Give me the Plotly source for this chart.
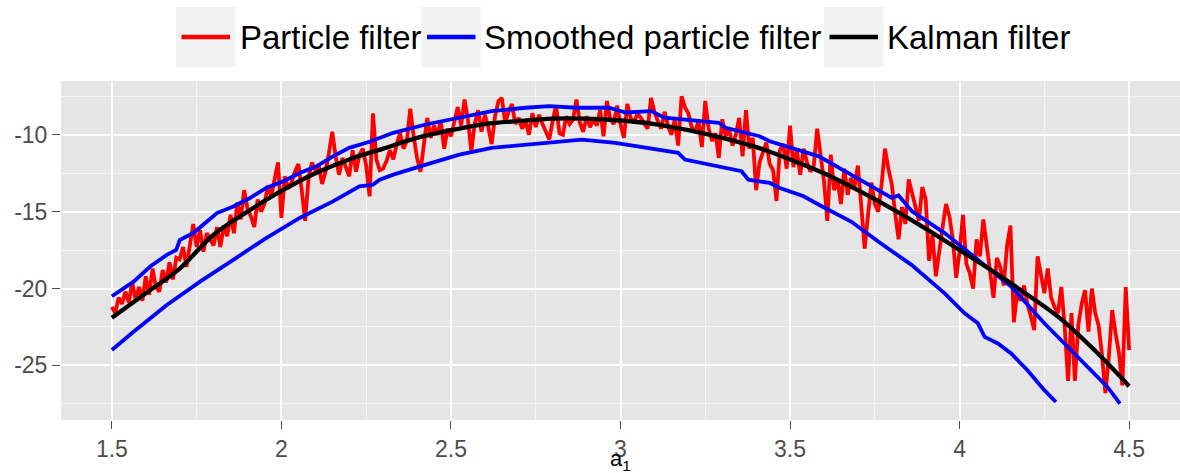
import plotly.graph_objects as go

# ---------------- data ----------------
series_names = ["Particle filter", "Smoothed particle filter", "Kalman filter"]
series_colors = ["#FF0000", "#0000FF", "#000000"]

x_ticks = [1.5, 2.0, 2.5, 3.0, 3.5, 4.0, 4.5]
x_tick_text = ["1.5", "2", "2.5", "3", "3.5", "4", "4.5"]
y_ticks = [-25, -20, -15, -10]
y_tick_text = ["-25", "-20", "-15", "-10"]
x_title = "a<sub>1</sub>"

# particle filter: one value per 0.01 step in a1, starting at 1.50
pf_start = 1.5
pf_step = 0.01
pf_values = [
    -21.2, -21.6, -20.6, -21.0, -20.2, -20.9, -19.6, -20.7, -19.9, -20.8,
    -19.2, -20.4, -18.7, -19.9, -20.2, -18.8, -19.6, -18.3, -19.4, -18.0,
    -18.1, -17.3, -18.6, -17.0, -15.8, -17.3, -16.2, -17.6, -16.4, -16.8,
    -17.2, -16.0, -17.3, -15.9, -16.6, -15.2, -16.4, -14.4, -15.5, -13.6,
    -14.8, -15.3, -16.0, -14.2, -15.0, -14.5, -13.3, -14.0, -12.8, -11.8,
    -15.4, -12.7, -13.5, -13.1, -12.4, -11.9, -13.6, -15.6, -12.8, -11.8,
    -12.3, -12.0, -13.2, -12.4, -11.2, -9.8, -11.4, -12.6, -11.5, -12.2,
    -12.7, -11.0, -12.4, -11.3, -10.9, -12.0, -14.0, -8.6, -11.6, -12.3,
    -12.2, -11.7, -11.0, -11.6, -10.6, -9.9, -10.9, -10.4, -8.3, -10.1,
    -11.5, -12.4, -10.5, -8.9, -10.2, -9.4, -10.0, -9.1, -10.9, -9.6,
    -10.1, -9.0, -8.2, -9.4, -7.7, -9.0, -11.1, -9.3, -8.4, -9.8,
    -8.7, -9.5, -10.6, -8.8, -7.8, -7.6, -9.2, -8.5, -8.0, -9.3,
    -8.9, -9.6, -9.1, -10.0, -8.6, -9.5, -8.7, -9.3, -9.8, -10.3,
    -9.1, -8.1, -9.9, -10.0, -8.8, -9.3, -9.0, -7.7, -9.2, -9.8,
    -8.8, -9.5, -9.0, -9.4, -8.4, -10.1, -7.8, -9.0, -9.3, -8.1,
    -9.3, -10.2, -8.0, -8.9, -9.2, -8.6, -8.9, -9.3, -9.6, -7.6,
    -8.5, -9.1, -9.6, -8.5, -9.4, -10.0, -9.0, -10.7, -7.5, -8.2,
    -8.6, -9.5, -9.8, -9.1, -10.8, -7.8, -9.6, -10.4, -9.9, -11.5,
    -9.0, -10.1, -9.6, -10.7, -10.0, -8.9, -11.4, -8.4, -10.9, -10.2,
    -13.6, -11.8, -11.2, -10.5, -11.9, -12.3, -14.3, -11.0, -10.6, -12.2,
    -9.4, -12.1, -11.0, -12.6, -10.9, -11.8, -12.4, -12.0, -9.6, -11.5,
    -13.0, -15.6, -11.3, -13.6, -12.9, -14.5, -12.2, -13.9, -12.8, -13.4,
    -12.0, -14.6, -17.4, -15.2, -13.1, -14.5, -15.0, -13.2, -10.9, -12.2,
    -13.2, -15.1, -16.8, -14.7, -15.8, -12.9, -13.8, -14.5, -15.6, -13.4,
    -14.2, -18.2, -16.5, -19.2, -17.4, -16.0, -14.5, -15.3, -16.8, -19.3,
    -17.6, -15.2, -18.4, -19.0, -20.0, -16.8, -17.9, -15.5, -17.2, -19.1,
    -20.6, -18.0, -18.6, -19.8, -17.2, -15.9, -22.2, -20.2, -20.8, -19.8,
    -21.0, -21.8, -22.7, -17.9, -19.0, -20.3, -18.7, -20.6, -21.2, -21.6,
    -19.9, -22.5, -26.0, -21.6, -26.0, -22.4, -21.0, -20.1, -22.8, -20.0,
    -21.6, -22.4, -24.3, -26.8, -24.5, -21.4, -22.9, -24.2, -26.3, -19.9,
    -24.0,
]
pf_x = [round(pf_start + i * pf_step, 2) for i in range(len(pf_values))]

# smoothed particle filter: upper and lower curves
spf_upper_x = [1.50, 1.564, 1.613, 1.662, 1.69, 1.70, 1.74, 1.81, 1.858, 1.907,
               1.955, 2.005, 2.054, 2.103, 2.152, 2.20, 2.26, 2.33, 2.426, 2.525,
               2.62, 2.72, 2.79, 2.87, 2.966, 3.015, 3.09, 3.13, 3.29, 3.31,
               3.41, 3.44, 3.585, 3.68, 3.76, 3.80, 3.82, 3.84, 3.86, 3.956,
               4.055, 4.152, 4.25, 4.348, 4.436, 4.473]
spf_upper_y = [-20.5, -19.55, -18.57, -17.81, -17.48, -16.85, -16.39, -15.09, -14.66, -14.11,
               -13.46, -13.03, -12.48, -12.05, -11.40, -10.85, -10.45, -9.87, -9.33, -8.89,
               -8.46, -8.24, -8.13, -8.24, -8.24, -8.55, -8.46, -8.89, -9.22, -9.54,
               -10.09, -10.42, -11.40, -12.59, -13.57, -14.1, -13.95, -14.44, -14.98, -16.39,
               -18.13, -19.87, -22.26, -24.44, -26.4, -27.48]

spf_lower_x = [1.50, 1.564, 1.662, 1.76, 1.858, 1.955, 2.054, 2.152, 2.23, 2.27,
               2.29, 2.33, 2.426, 2.525, 2.62, 2.72, 2.82, 2.886, 2.985, 3.044,
               3.09, 3.17, 3.19, 3.29, 3.357, 3.377, 3.44, 3.47, 3.54, 3.585,
               3.68, 3.76, 3.858, 3.956, 4.015, 4.054, 4.074, 4.113, 4.152, 4.20,
               4.25, 4.284]
spf_lower_y = [-24.0, -22.81, -21.07, -19.55, -18.13, -16.72, -15.41, -14.33, -13.35, -13.24,
               -12.92, -12.59, -11.94, -11.29, -10.85, -10.63, -10.42, -10.31, -10.52, -10.74,
               -10.85, -11.17, -11.61, -12.05, -12.37, -12.92, -13.13, -13.46, -14.0, -14.55,
               -15.64, -16.94, -18.46, -20.31, -21.61, -22.26, -23.14, -23.57, -24.22, -25.31,
               -26.61, -27.38]

# Kalman filter
kf_x = [1.5, 1.6, 1.7, 1.8, 1.9, 2.0, 2.1, 2.2, 2.3, 2.4, 2.5, 2.6, 2.7, 2.8, 2.9, 3.0,
        3.1, 3.2, 3.3, 3.4, 3.5, 3.6, 3.7, 3.8, 3.9, 4.0, 4.1, 4.2, 4.3, 4.4, 4.5]
kf_y = [-21.9, -20.3, -18.7, -16.5, -15.0, -13.65, -12.5, -11.6, -10.9, -10.2, -9.7, -9.3,
        -9.1, -8.95, -8.95, -9.07, -9.3, -9.7, -10.2, -10.8, -11.6, -12.5, -13.6, -14.8,
        -16.1, -17.5, -18.9, -20.4, -22.0, -24.05, -26.35]

# ---------------- figure ----------------
W, H = 1180, 473
PL, PR, PT, PB = 61, 0, 81, 53
PW, PH = W - PL - PR, H - PT - PB
FONT = "Liberation Sans, Arial, Helvetica, sans-serif"
LW = 3.8

fig = go.Figure()
fig.add_trace(go.Scatter(x=pf_x, y=pf_values, mode="lines", name=series_names[0],
                         line=dict(color=series_colors[0], width=LW), showlegend=False))
fig.add_trace(go.Scatter(x=spf_upper_x, y=spf_upper_y, mode="lines", name=series_names[1],
                         line=dict(color=series_colors[1], width=LW), showlegend=False))
fig.add_trace(go.Scatter(x=spf_lower_x, y=spf_lower_y, mode="lines", name=series_names[1],
                         line=dict(color=series_colors[1], width=LW), showlegend=False))
fig.add_trace(go.Scatter(x=kf_x, y=kf_y, mode="lines", name=series_names[2],
                         line=dict(color=series_colors[2], width=4.3, shape="spline"),
                         showlegend=False))


def pxx(px):
    return (px - PL) / PW


def pxy(py):
    return 1 - (py - PT) / PH


# manual ggplot-style legend on top
key_x0 = [176, 421.5, 824]
text_x0 = [237.5, 481.5, 884.5]
key_w = 59.5
key_top, key_bot, key_mid = 7, 67, 37
shapes = []
annotations = []
for i, name in enumerate(series_names):
    shapes.append(dict(type="rect", xref="paper", yref="paper",
                       x0=pxx(key_x0[i]), x1=pxx(key_x0[i] + key_w),
                       y0=pxy(key_bot), y1=pxy(key_top),
                       fillcolor="#F2F2F2", line=dict(width=0), layer="below"))
    shapes.append(dict(type="line", xref="paper", yref="paper",
                       x0=pxx(key_x0[i] + 5.5), x1=pxx(key_x0[i] + key_w - 5.5),
                       y0=pxy(key_mid), y1=pxy(key_mid),
                       line=dict(color=series_colors[i], width=4.3)))
    annotations.append(dict(text=name, xref="paper", yref="paper",
                            x=pxx(text_x0[i]), y=pxy(key_mid + 1),
                            xanchor="left", yanchor="middle", showarrow=False,
                            font=dict(family=FONT, size=33, color="#000000")))

# x-axis title (a with subscript 1), placed below tick labels
annotations.append(dict(text=x_title, xref="paper", yref="paper",
                        x=0.5, y=pxy(460), xanchor="center", yanchor="middle",
                        showarrow=False,
                        font=dict(family=FONT, size=22, color="#000000")))

axis_common = dict(
    showgrid=True, gridcolor="#FFFFFF", gridwidth=1.6,
    zeroline=False, showline=False,
    ticks="outside", tickwidth=1.3, tickcolor="#4D4D4D",
    tickfont=dict(family=FONT, size=23, color="#4D4D4D"),
    tickmode="array",
)

fig.update_layout(
    width=W, height=H, autosize=False,
    margin=dict(l=PL, r=PR, t=PT, b=PB, pad=0),
    paper_bgcolor="#FFFFFF", plot_bgcolor="#E5E5E5",
    font=dict(family=FONT),
    showlegend=False,
    shapes=shapes, annotations=annotations,
    xaxis=dict(axis_common, range=[1.35, 4.65], tickvals=x_ticks, ticktext=x_tick_text,
               ticklen=8,
               minor=dict(tickmode="array", tickvals=[1.75, 2.25, 2.75, 3.25, 3.75, 4.25],
                          showgrid=True, gridcolor="#F4F4F4", gridwidth=0.8, ticks="")),
    yaxis=dict(axis_common, range=[-28.55, -6.5], tickvals=y_ticks, ticktext=y_tick_text,
               ticklen=8,
               minor=dict(tickmode="array", tickvals=[-27.5, -22.5, -17.5, -12.5, -7.5],
                          showgrid=True, gridcolor="#F4F4F4", gridwidth=0.8, ticks="")),
)

fig.write_html("out.html")
